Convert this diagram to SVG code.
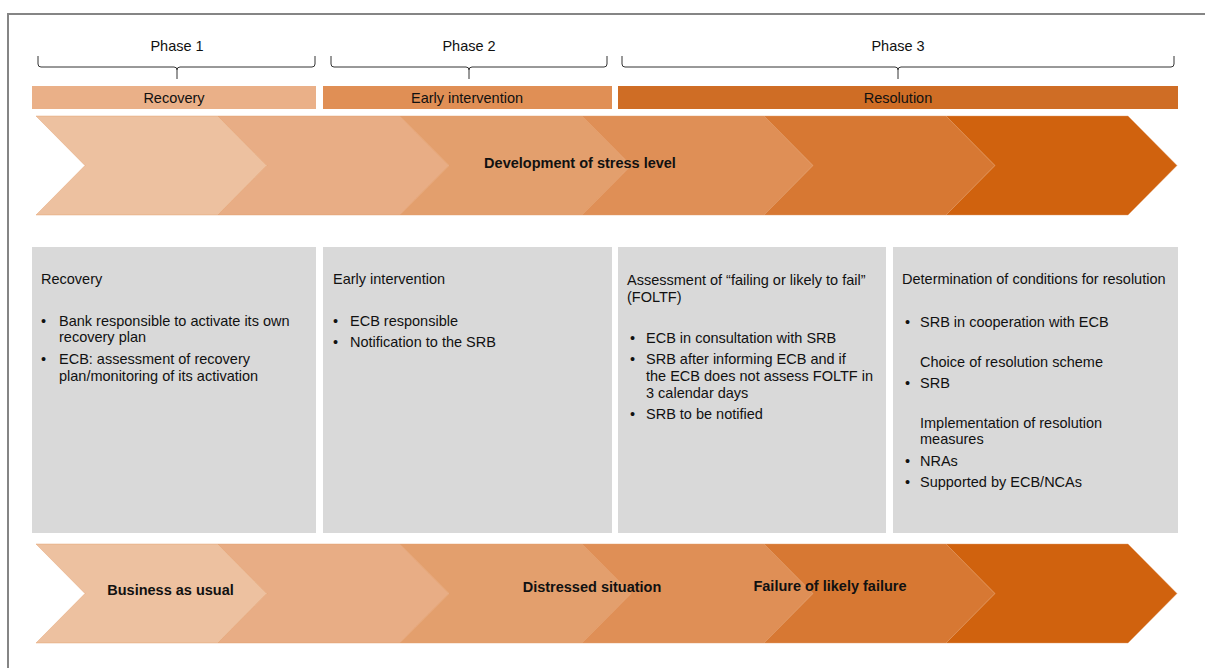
<svg xmlns="http://www.w3.org/2000/svg" xmlns:xlink="http://www.w3.org/1999/xlink" width="1205" height="668" viewBox="0 0 1205 668">
<style>
text{font-family:"Liberation Sans",Arial,sans-serif;font-size:14.5px;fill:#111}
.c{text-anchor:middle}
.b{font-weight:bold}
.brace{fill:none;stroke:#333;stroke-width:1}
.chev{stroke:#E39A66;stroke-width:0.6;stroke-opacity:0.7}
.box{fill:#D9D9D9}
</style>
<defs>
<polygon id="chev" points="0,0 182,0 231,49.5 182,99 0,99 49,49.5"/>
</defs>
<rect x="8" y="14" width="1300" height="700" fill="#fff" stroke="#858585" stroke-width="2"/>
<g id="braces">
<path class="brace" d="M38,56 L38,64 Q38,67 41,67 L174,67 Q177,67 177,70 Q177,67 180,67 L312,67 Q315,67 315,64 L315,56 M177,70 L177,79"/>
<path class="brace" d="M331,56 L331,64 Q331,67 334,67 L466,67 Q469,67 469,70 Q469,67 472,67 L604,67 Q607,67 607,64 L607,56 M469,70 L469,79"/>
<path class="brace" d="M622,56 L622,64 Q622,67 625,67 L895,67 Q898,67 898,70 Q898,67 901,67 L1171,67 Q1174,67 1174,64 L1174,56 M898,70 L898,79"/>
</g>
<g id="phase-labels">
<text class="c" x="177" y="51">Phase 1</text>
<text class="c" x="469" y="51">Phase 2</text>
<text class="c" x="898" y="51">Phase 3</text>
</g>
<g id="bar-recovery"><rect x="32" y="86" width="284" height="23" fill="#EAB088"/><text class="c" x="174" y="103">Recovery</text></g>
<g id="bar-early"><rect x="323" y="86" width="289" height="23" fill="#E08F55"/><text class="c" x="467" y="103">Early intervention</text></g>
<g id="bar-resolution"><rect x="618" y="86" width="560" height="23" fill="#CF6D25"/><text class="c" x="898" y="103">Resolution</text></g>
<g id="stress-chevrons">
<use href="#chev" class="chev" x="36" y="116" fill="#EDC1A0"/>
<use href="#chev" class="chev" x="218" y="116" fill="#E8AD85"/>
<use href="#chev" class="chev" x="400" y="116" fill="#E39F6D"/>
<use href="#chev" class="chev" x="582" y="116" fill="#DF8F56"/>
<use href="#chev" class="chev" x="764" y="116" fill="#D77833"/>
<use href="#chev" class="chev" x="946" y="116" fill="#D0620E"/>
<text class="c b" x="580" y="168">Development of stress level</text>
</g>
<g id="box-recovery">
<rect class="box" x="32" y="247" width="284" height="286"/>
<text x="41" y="284">Recovery</text>
<text x="41" y="326">•</text><text x="59" y="326">Bank responsible to activate its own</text>
<text x="59" y="342">recovery plan</text>
<text x="41" y="364">•</text><text x="59" y="364">ECB: assessment of recovery</text>
<text x="59" y="381">plan/monitoring of its activation</text>
</g>
<g id="box-early">
<rect class="box" x="323" y="247" width="289" height="286"/>
<text x="333" y="284">Early intervention</text>
<text x="333" y="326">•</text><text x="350" y="326">ECB responsible</text>
<text x="333" y="347">•</text><text x="350" y="347">Notification to the SRB</text>
</g>
<g id="box-foltf">
<rect class="box" x="618" y="247" width="268" height="286"/>
<text x="627" y="285">Assessment of “failing or likely to fail”</text>
<text x="627" y="301.5">(FOLTF)</text>
<text x="630" y="343">•</text><text x="646" y="343">ECB in consultation with SRB</text>
<text x="630" y="364">•</text><text x="646" y="364">SRB after informing ECB and if</text>
<text x="646" y="381">the ECB does not assess FOLTF in</text>
<text x="646" y="397.5">3 calendar days</text>
<text x="630" y="419">•</text><text x="646" y="419">SRB to be notified</text>
</g>
<g id="box-resolution">
<rect class="box" x="893" y="247" width="285" height="286"/>
<text x="902" y="284">Determination of conditions for resolution</text>
<text x="905" y="327">•</text><text x="920" y="327">SRB in cooperation with ECB</text>
<text x="920" y="366.5">Choice of resolution scheme</text>
<text x="905" y="387.5">•</text><text x="920" y="387.5">SRB</text>
<text x="920" y="427.5">Implementation of resolution</text>
<text x="920" y="444">measures</text>
<text x="905" y="465.5">•</text><text x="920" y="465.5">NRAs</text>
<text x="905" y="486.5">•</text><text x="920" y="486.5">Supported by ECB/NCAs</text>
</g>
<g id="situation-chevrons">
<use href="#chev" class="chev" x="36" y="544" fill="#EDC1A0"/>
<use href="#chev" class="chev" x="218" y="544" fill="#E8AD85"/>
<use href="#chev" class="chev" x="400" y="544" fill="#E39F6D"/>
<use href="#chev" class="chev" x="582" y="544" fill="#DF8F56"/>
<use href="#chev" class="chev" x="764" y="544" fill="#D77833"/>
<use href="#chev" class="chev" x="946" y="544" fill="#D0620E"/>
<text class="c b" x="170.5" y="595">Business as usual</text>
<text class="c b" x="592" y="591.5">Distressed situation</text>
<text class="c b" x="830" y="591">Failure of likely failure</text>
</g>
</svg>
